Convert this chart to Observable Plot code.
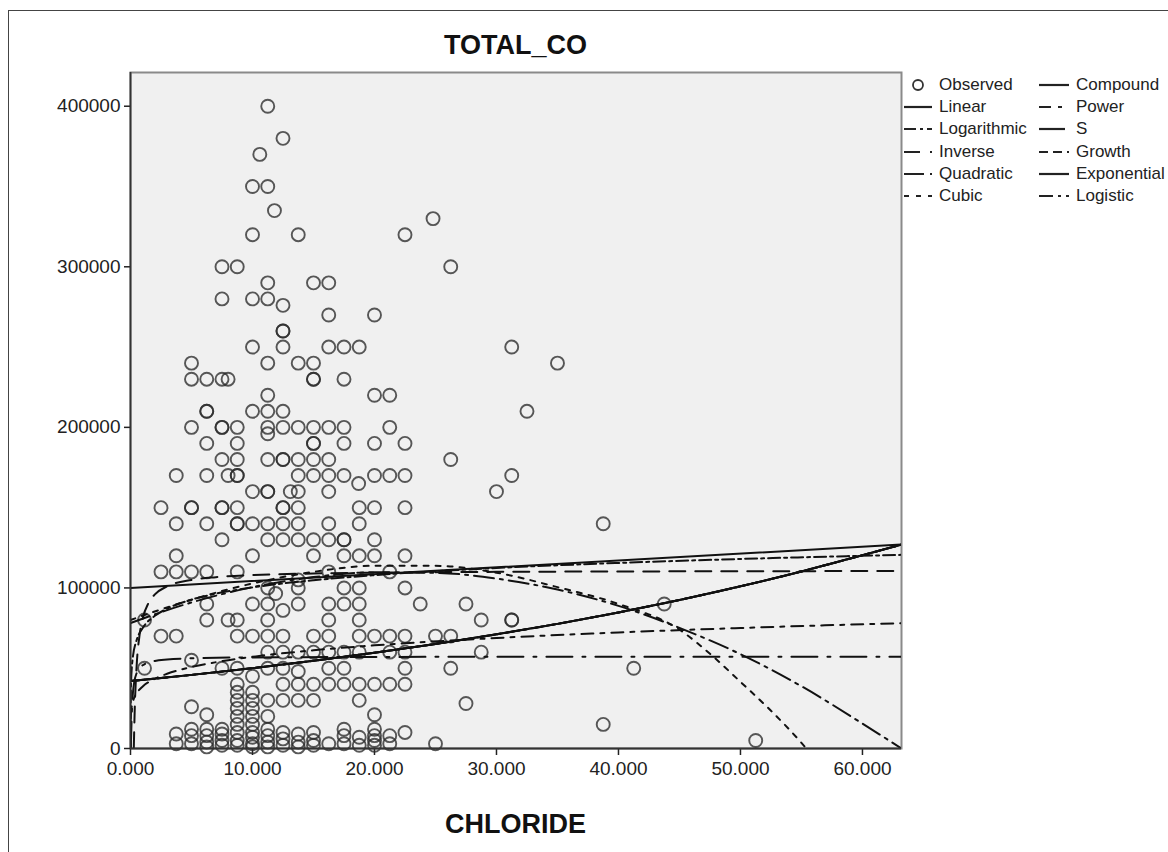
<!DOCTYPE html>
<html>
<head>
<meta charset="utf-8">
<script src="https://cdn.jsdelivr.net/npm/d3@7"></script>
<script src="https://cdn.jsdelivr.net/npm/@observablehq/plot@0.6"></script>
<style>
html,body{margin:0;padding:0;background:#fff;overflow:hidden}
#wrap{position:relative;width:1168px;height:852px;font-family:"Liberation Sans",Arial,sans-serif;color:#222}
#frame{position:absolute;left:8px;top:10px;width:1170px;height:850px;border-top:1px solid #444;border-left:1px solid #444;box-sizing:border-box}
#chart{position:absolute;left:0;top:0}
.lab{position:absolute;left:130px;width:771px;text-align:center;font-weight:bold;font-size:27px;line-height:27px;color:#111}
#legend .item{position:absolute;height:20px;display:flex;align-items:center;font-size:17px;white-space:nowrap;color:#222}
#legend svg{display:block;margin-right:5px}
</style>
</head>
<body>
<div id="wrap">
  <div id="frame"></div>
  <div id="chart"></div>
  <div class="lab" style="top:32px">TOTAL_CO</div>
  <div class="lab" style="top:811px">CHLORIDE</div>
  <div id="legend"></div>
</div>
<script>
// ---------- observed data (CHLORIDE, TOTAL_CO) ----------
const CHLORIDE = [
11.25,12.5,10.6,10,11.25,11.8,10,13.75,22.5,24.8,26.25,7.5,8.75,11.25,15,16.25,7.5,10,11.25,12.5,
16.25,20,12.5,12.5,10,12.5,16.25,17.5,18.75,31.25,5,11.25,13.75,15,35,5,6.25,7.5,8,15,15,17.5,
11.25,20,21.25,6.25,6.25,10,11.25,12.5,32.5,5,7.5,7.5,8.75,11.25,12.5,13.75,15,16.25,17.5,21.25,11.25,
6.25,8.75,15,15,17.5,20,22.5,7.5,8.75,11.25,12.5,12.5,13.75,15,16.25,26.25,
3.75,6.25,8,8.75,8.75,13.75,15,16.25,17.5,20,21.25,22.5,31.25,18.7,
10,11.25,11.25,13.1,13.75,16.25,30,
2.5,5,5,7.5,7.5,8.75,12.5,12.5,13.75,18.75,20,22.5,
3.75,6.25,8.75,8.75,10,11.25,12.5,13.75,16.25,18.75,38.75,
7.5,11.25,12.5,13.75,15,16.25,17.5,17.5,20,
3.75,10,15,17.5,18.75,20,22.5,
2.5,3.75,5,6.25,8.75,16.25,21.25,13.75,
11.25,13.75,17.5,18.75,22.5,11.9,
6.25,10,11.25,13.75,16.25,17.5,18.75,23.75,27.5,43.75,12.5,
1.15,6.25,8,8.75,11.25,16.25,18.75,28.75,31.25,31.25,
2.5,3.75,8.75,10,11.25,12.5,15,16.25,18.75,20,21.25,22.5,25,26.25,
11.25,12.5,13.75,15,16.25,17.5,18.75,21.25,22.5,28.75,5,
1.15,7.5,8.75,11.25,12.5,13.75,16.25,17.5,22.5,26.25,41.25,10,
8.75,12.5,13.75,15,16.25,17.5,18.75,20,21.25,22.5,8.75,10,
8.75,10,11.25,12.5,13.75,15,18.75,27.5,5,8.75,10,6.25,8.75,10,11.25,20,8.75,10,38.75,
3.75,3.75,5,5,5,6.25,6.25,6.25,6.25,7.5,7.5,7.5,7.5,8.75,8.75,8.75,10,10,10,10,
11.25,11.25,11.25,11.25,12.5,12.5,12.5,13.75,13.75,13.75,15,15,15,16.25,17.5,17.5,17.5,
18.75,18.75,20,20,20,20,21.25,21.25,22.5,25,51.25
];
const TOTAL_CO = [
400000,380000,370000,350000,350000,335000,320000,320000,320000,330000,300000,300000,300000,290000,290000,290000,280000,280000,280000,276000,
270000,270000,260000,260000,250000,250000,250000,250000,250000,250000,240000,240000,240000,240000,240000,230000,230000,230000,230000,230000,230000,230000,
220000,220000,220000,210000,210000,210000,210000,210000,210000,200000,200000,200000,200000,200000,200000,200000,200000,200000,200000,200000,196000,
190000,190000,190000,190000,190000,190000,190000,180000,180000,180000,180000,180000,180000,180000,180000,180000,
170000,170000,170000,170000,170000,170000,170000,170000,170000,170000,170000,170000,170000,165000,
160000,160000,160000,160000,160000,160000,160000,
150000,150000,150000,150000,150000,150000,150000,150000,150000,150000,150000,150000,
140000,140000,140000,140000,140000,140000,140000,140000,140000,140000,140000,
130000,130000,130000,130000,130000,130000,130000,130000,130000,
120000,120000,120000,120000,120000,120000,120000,
110000,110000,110000,110000,110000,110000,110000,105000,
100000,100000,100000,100000,100000,96500,
90000,90000,90000,90000,90000,90000,90000,90000,90000,90000,86000,
80000,80000,80000,80000,80000,80000,80000,80000,80000,80000,
70000,70000,70000,70000,70000,70000,70000,70000,70000,70000,70000,70000,70000,70000,
60000,60000,60000,60000,60000,60000,60000,60000,60000,60000,55000,
50000,50000,50000,50000,50000,48000,50000,50000,50000,50000,50000,45000,
40000,40000,40000,40000,40000,40000,40000,40000,40000,40000,35000,35000,
30000,30000,30000,30000,30000,30000,30000,28000,26000,25000,25000,21000,20000,20000,20000,21000,15000,15000,15000,
9000,3000,12000,8000,3000,12000,8000,4000,1000,12000,9000,5000,2000,10000,5000,2000,10000,7000,3000,1000,
12000,8000,4000,1000,10000,6000,2000,9000,4000,1000,10000,5000,2000,3000,12000,8000,3000,
7000,2000,12000,8000,5000,2000,8000,3000,10000,3000,5000
];

// ---------- fitted curves ----------
const LINEAR_X = [0, 63.2];
const LINEAR_Y = [100000, 127000];
const LOG_X = [0.0011,0.002,0.005,0.01,0.02,0.05,0.1,0.2,0.5,1,2,3,5,7,10,15,20,30,40,50,63.2];
const LOG_Y = [0,6630,16720,24340,31970,42050,49670,57300,67370,75000,82620,87080,92700,96400,100330,104790,107950,112410,115580,118030,120600];
const INV_X = [0.27,0.35,0.5,0.75,1,1.5,2,3,5,7,10,15,20,30,40,50,63.2];
const INV_Y = [0,25300,51000,71000,81000,91000,96000,101000,105000,106700,108000,109000,109500,110000,110250,110400,110520];
const QUAD_X = [0,5,10,15,20,25,30,35,40,45,50,55,60,63.2];
const QUAD_Y = [78150,90950,100490,106740,109720,109420,105800,98980,88840,75130,58740,38770,15520,0];
const CUBIC_X = [0,2.5,5,10,15,20,25,30,35,40,45,47.5,50,52.5,55,55.4];
const CUBIC_Y = [80000,86620,92660,102800,110000,113800,113780,109490,100500,90000,74000,59000,41500,23500,3500,0];
const POWER_X = [0,0.001,0.01,0.05,0.1,0.3,0.5,1,2,3,5,7,10,15,20,30,40,50,63.2];
const POWER_Y = [0,11930,17640,23190,26100,31470,34310,38600,43430,46520,50750,53730,57090,61170,64230,68820,72270,75060,78060];
const S_X = [0.02,0.03,0.05,0.1,0.2,0.3,0.5,1,2,3,5,10,20,40,63.2];
const S_Y = [386,2040,7750,21080,34750,41060,46910,51850,54500,55420,56170,56730,57010,57160,57210];
const EXP_X = [0,5,10,15,20,25,30,35,40,45,50,55,60,63.2];
const EXP_Y = [42000,45850,50060,54650,59660,65130,71100,77620,84740,92510,100990,110250,120360,127000];

const MODELS = ["Linear","Logarithmic","Inverse","Quadratic","Cubic","Compound","Power","S","Growth","Exponential","Logistic"];
const MODEL_XS = [LINEAR_X,LOG_X,INV_X,QUAD_X,CUBIC_X,EXP_X,POWER_X,S_X,EXP_X,EXP_X,EXP_X];
const MODEL_YS = [LINEAR_Y,LOG_Y,INV_Y,QUAD_Y,CUBIC_Y,EXP_Y,POWER_Y,S_Y,EXP_Y,EXP_Y,EXP_Y];

const X_TICKS = [0,10,20,30,40,50,60];
const Y_TICKS = [0,100000,200000,300000,400000];

// styles
const DASH = {
  Linear: null, Logarithmic: "12,4,3,4", Inverse: "16,10", Quadratic: "20,6,3,6",
  Cubic: "5,7", Compound: null, Power: "12,7,4,7", S: "26,10,3,10",
  Growth: "9,5", Exponential: null, Logistic: "14,5,3,5"
};

const points = CHLORIDE.map((x, i) => ({x, y: TOTAL_CO[i]}));

const curveMarks = MODELS.map((m, k) => {
  const data = MODEL_XS[k].map((x, i) => ({x, y: MODEL_YS[k][i]}));
  return Plot.line(data, {x: "x", y: "y", stroke: "#111", strokeWidth: 2,
    strokeDasharray: DASH[m] || undefined, curve: "monotone-x", clip: true});
});

const chart = Plot.plot({
  width: 1168, height: 852,
  marginLeft: 130, marginRight: 267, marginTop: 72, marginBottom: 104,
  style: {fontFamily: "'Liberation Sans', Arial, sans-serif", fontSize: "19px", color: "#222", background: "transparent", overflow: "visible"},
  x: {domain: [0, 63.2]},
  y: {domain: [0, 421000]},
  marks: [
    Plot.frame({fill: "#f0f0f0", stroke: "#8a8a8a", strokeWidth: 2}),
    Plot.axisX({ticks: X_TICKS, tickFormat: d3.format(".3f"), tickSize: 7, tickPadding: 6, label: null, stroke: "#222", strokeWidth: 1.5}),
    Plot.axisY({ticks: Y_TICKS, tickFormat: d => String(d), tickSize: 6, tickPadding: 4, label: null, stroke: "#222", strokeWidth: 1.5}),
    Plot.dot(points, {x: "x", y: "y", r: 6.5, stroke: "#2a2a2a", strokeWidth: 1.9, strokeOpacity: 0.78, fill: "none"}),
    ...curveMarks,
    Plot.ruleX([0], {stroke: "#333", strokeWidth: 1.8}),
    Plot.ruleY([0], {stroke: "#333", strokeWidth: 1.8})
  ]
});
document.getElementById("chart").appendChild(chart);

// ---------- legend ----------
const LEGEND_COL1 = ["Observed","Linear","Logarithmic","Inverse","Quadratic","Cubic"];
const LEGEND_COL2 = ["Compound","Power","S","Growth","Exponential","Logistic"];
const legend = document.getElementById("legend");
function addItem(name, left, top, swW) {
  const div = document.createElement("div");
  div.className = "item";
  div.style.left = left + "px";
  div.style.top = top + "px";
  let sw;
  if (name === "Observed") {
    sw = `<svg width="${swW}" height="20"><circle cx="15" cy="10" r="5" fill="none" stroke="#333" stroke-width="1.8"/></svg>`;
  } else {
    const d = DASH[name] ? `stroke-dasharray="${DASH[name]}"` : "";
    sw = `<svg width="${swW}" height="20"><line x1="1" x2="${swW-2}" y1="10" y2="10" stroke="#222" stroke-width="2.2" ${d}/></svg>`;
  }
  div.innerHTML = sw + `<span>${name}</span>`;
  legend.appendChild(div);
}
LEGEND_COL1.forEach((n, r) => addItem(n, 903, 75 + r * 22.2, 31));
LEGEND_COL2.forEach((n, r) => addItem(n, 1038, 75 + r * 22.2, 33));
</script>
</body>
</html>
